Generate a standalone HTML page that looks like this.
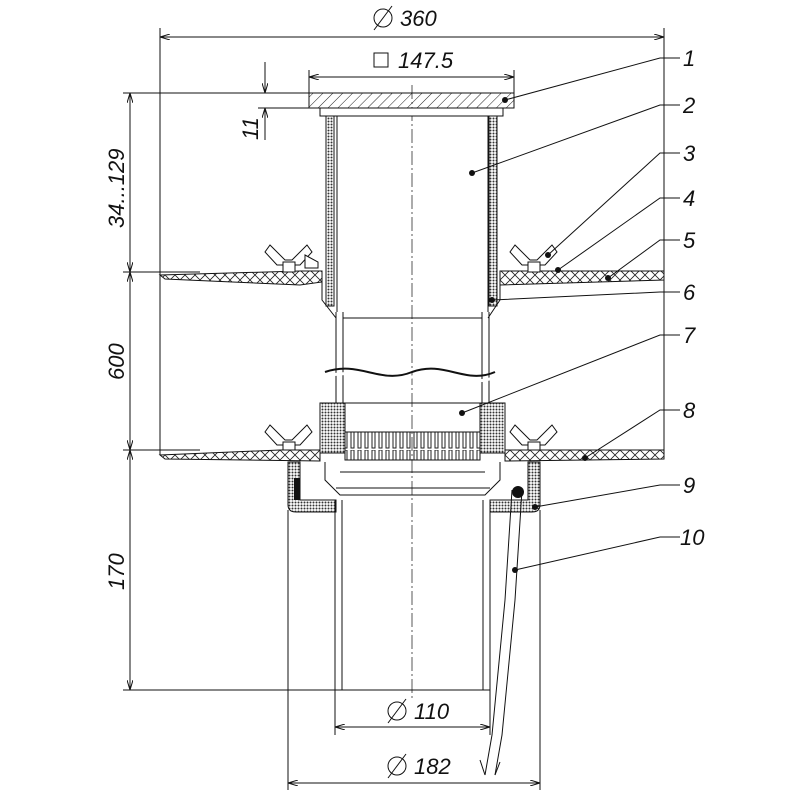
<!DOCTYPE html>
<html><head><meta charset="utf-8"><style>
html,body{margin:0;padding:0;background:#fff}
text{font-family:"Liberation Sans",sans-serif;font-style:italic;fill:#111}
</style></head><body>
<svg width="800" height="800" viewBox="0 0 800 800" xmlns="http://www.w3.org/2000/svg">
<defs>
<pattern id="x" width="10" height="10" patternUnits="userSpaceOnUse"><path d="M0 0L10 10M10 0L0 10" stroke="#222" stroke-width="0.8"/></pattern>
<pattern id="h" width="7" height="7" patternUnits="userSpaceOnUse" patternTransform="rotate(45)"><line x1="0" y1="0" x2="0" y2="7" stroke="#222" stroke-width="1"/></pattern>
<pattern id="d" width="3" height="3" patternUnits="userSpaceOnUse"><rect width="3" height="3" fill="#fff"/><circle cx="1.5" cy="1.5" r="1" fill="#333"/></pattern>
<pattern id="fin" width="7" height="30" patternUnits="userSpaceOnUse"><rect x="1" y="0" width="3" height="28" fill="none" stroke="#222" stroke-width="1"/></pattern>
<marker id="a" markerWidth="10" markerHeight="6" refX="10" refY="3" orient="auto-start-reverse"><path d="M0 0L10 3L0 6" fill="none" stroke="#111" stroke-width="1"/></marker>
</defs>
<g stroke="#111" stroke-width="1" fill="none">
<line x1="160" y1="28" x2="160" y2="455"/><line x1="664" y1="28" x2="664" y2="455"/>
<line x1="160" y1="37" x2="664" y2="37" marker-start="url(#a)" marker-end="url(#a)"/>
<line x1="309" y1="70" x2="309" y2="93"/><line x1="514" y1="70" x2="514" y2="93"/>
<line x1="309" y1="77" x2="514" y2="77" marker-start="url(#a)" marker-end="url(#a)"/>
<rect x="374" y="53" width="14" height="14"/>
<line x1="123" y1="93" x2="309" y2="93"/><line x1="258" y1="108" x2="325" y2="108"/>
<line x1="123" y1="272" x2="200" y2="272"/><line x1="123" y1="450" x2="200" y2="450"/>
<line x1="123" y1="690" x2="335" y2="690"/>
<line x1="130" y1="93" x2="130" y2="690"/>
<line x1="130" y1="93" x2="130" y2="272" marker-start="url(#a)" marker-end="url(#a)"/>
<line x1="130" y1="272" x2="130" y2="450" marker-start="url(#a)" marker-end="url(#a)"/>
<line x1="130" y1="450" x2="130" y2="690" marker-start="url(#a)" marker-end="url(#a)"/>
<line x1="265" y1="62" x2="265" y2="93" marker-end="url(#a)"/>
<line x1="265" y1="140" x2="265" y2="108" marker-end="url(#a)"/>
<line x1="335" y1="690" x2="335" y2="735"/><line x1="490" y1="690" x2="490" y2="735"/>
<line x1="335" y1="727" x2="490" y2="727" marker-start="url(#a)" marker-end="url(#a)"/>
<line x1="288" y1="510" x2="288" y2="790"/><line x1="540" y1="510" x2="540" y2="790"/>
<line x1="288" y1="783" x2="540" y2="783" marker-start="url(#a)" marker-end="url(#a)"/>
<line x1="412" y1="85" x2="412" y2="700" stroke-dasharray="14 3 2 3" stroke-width="0.7"/>
<!-- diameter symbols -->
<circle cx="383" cy="18" r="9"/><line x1="374" y1="30" x2="392" y2="6"/>
<circle cx="397" cy="711" r="9"/><line x1="388" y1="723" x2="406" y2="699"/>
<circle cx="397" cy="766" r="9"/><line x1="388" y1="778" x2="406" y2="754"/>
</g>
<rect x="309" y="93" width="205" height="15" fill="url(#h)" stroke="#111"/>
<rect x="320" y="108" width="183" height="8" fill="#fff" stroke="#111"/>
<rect x="326" y="116" width="8" height="190" fill="url(#d)" stroke="#111"/>
<rect x="489" y="116" width="8" height="190" fill="url(#d)" stroke="#111"/>
<line x1="337" y1="116" x2="337" y2="312" stroke="#111"/><line x1="488" y1="116" x2="488" y2="312" stroke="#111"/>
<path d="M160 275 L300 271 L322 271 L322 282 L300 285 L165 279 Z" fill="url(#x)" stroke="#111"/>
<path d="M500 271 L664 271 L664 280 L500 285 Z" fill="url(#x)" stroke="#111"/>
<path d="M322 282 L322 300 L336 318 M500 285 L500 300 L488 318" fill="none" stroke="#111"/>
<g fill="#fff" stroke="#111">
<path d="M270 245 L285 260 L292 260 L307 245 L312 252 L300 265 L277 265 L265 252Z"/><rect x="283" y="262" width="12" height="10"/>
<path d="M305 255 L318 262 L318 268 L305 268Z"/>
<path d="M515 245 L530 260 L537 260 L552 245 L557 252 L545 265 L522 265 L510 252Z"/><rect x="528" y="262" width="12" height="10"/>
<path d="M270 425 L285 440 L292 440 L307 425 L312 432 L300 445 L277 445 L265 432Z"/><rect x="283" y="442" width="12" height="8"/>
<path d="M515 425 L530 440 L537 440 L552 425 L557 432 L545 445 L522 445 L510 432Z"/><rect x="528" y="442" width="12" height="8"/>
</g>
<g stroke="#111" fill="none">
<line x1="336" y1="312" x2="336" y2="440"/><line x1="343" y1="312" x2="343" y2="440"/>
<line x1="482" y1="312" x2="482" y2="440"/><line x1="489" y1="312" x2="489" y2="440"/>
<line x1="343" y1="318" x2="482" y2="318"/>
<path d="M325 372 C360 360 380 385 412 372 C445 360 465 385 495 372" stroke-width="2"/>
<path d="M325 377 C360 365 380 390 412 377 C445 365 465 390 495 377" stroke="#fff" stroke-width="3"/>
<line x1="345" y1="403" x2="480" y2="403"/>
</g>
<rect x="320" y="403" width="25" height="50" fill="url(#d)" stroke="#111"/>
<rect x="480" y="403" width="25" height="50" fill="url(#d)" stroke="#111"/>
<rect x="345" y="432" width="135" height="28" fill="url(#fin)" stroke="#111"/>
<path d="M160 455 L280 450 L320 450 L320 461 L165 459 Z" fill="url(#x)" stroke="#111"/>
<path d="M505 450 L664 450 L664 459 L505 461 Z" fill="url(#x)" stroke="#111"/>
<path d="M288 462 L288 505 Q288 512 296 512 L336 512 L336 500 L300 500 L300 462Z" fill="url(#d)" stroke="#111"/>
<path d="M540 462 L540 505 Q540 512 532 512 L490 512 L490 500 L528 500 L528 462Z" fill="url(#d)" stroke="#111"/>
<path d="M325 462 L325 480 L340 495 L485 495 L500 480 L500 462" fill="none" stroke="#111"/>
<line x1="340" y1="472" x2="485" y2="472" stroke="#111"/><line x1="336" y1="488" x2="490" y2="488" stroke="#111"/>
<rect x="294" y="478" width="6" height="22" fill="#111"/>
<g stroke="#111" fill="none">
<line x1="335" y1="500" x2="335" y2="690"/><line x1="342" y1="500" x2="342" y2="690"/>
<line x1="483" y1="500" x2="483" y2="690"/><line x1="490" y1="500" x2="490" y2="690"/>
<line x1="335" y1="690" x2="490" y2="690"/>
<path d="M512 490 L505 600 L492 735 L485 775"/><path d="M522 490 L515 600 L502 735 L495 775"/>
<path d="M485 775 L480 760 M495 775 L500 762"/>
</g>
<circle cx="518" cy="492" r="6" fill="#111"/>
<g stroke="#111" fill="none">
<path d="M505 100 L660 58 L680 58"/><path d="M472 173 L660 105 L680 105"/>
<path d="M548 255 L660 153 L680 153"/><path d="M558 270 L660 198 L680 198"/>
<path d="M608 278 L660 240 L680 240"/><path d="M492 300 L660 292 L680 292"/>
<path d="M462 413 L660 335 L680 335"/><path d="M585 458 L660 410 L680 410"/>
<path d="M535 507 L660 485 L680 485"/><path d="M515 570 L660 537 L680 537"/>
</g>
<g fill="#111">
<circle cx="505" cy="100" r="3"/><circle cx="472" cy="173" r="3"/><circle cx="548" cy="255" r="3"/>
<circle cx="558" cy="270" r="3"/><circle cx="608" cy="278" r="3"/><circle cx="492" cy="300" r="3"/>
<circle cx="462" cy="413" r="3"/><circle cx="585" cy="458" r="3"/><circle cx="535" cy="507" r="3"/><circle cx="515" cy="570" r="3"/>
</g>
<g font-size="22">
<text x="683" y="66">1</text><text x="683" y="113">2</text><text x="683" y="161">3</text>
<text x="683" y="206">4</text><text x="683" y="248">5</text><text x="683" y="300">6</text>
<text x="683" y="343">7</text><text x="683" y="418">8</text><text x="683" y="493">9</text><text x="680" y="545">10</text>
<text x="400" y="26">360</text>
<text x="398" y="68">147.5</text>
<text x="414" y="719">110</text>
<text x="414" y="774">182</text>
<text transform="translate(124,228) rotate(-90)">34...129</text>
<text transform="translate(124,380) rotate(-90)">600</text>
<text transform="translate(124,590) rotate(-90)">170</text>
<text transform="translate(258,140) rotate(-90)">11</text>
</g>
</svg>
</body></html>
